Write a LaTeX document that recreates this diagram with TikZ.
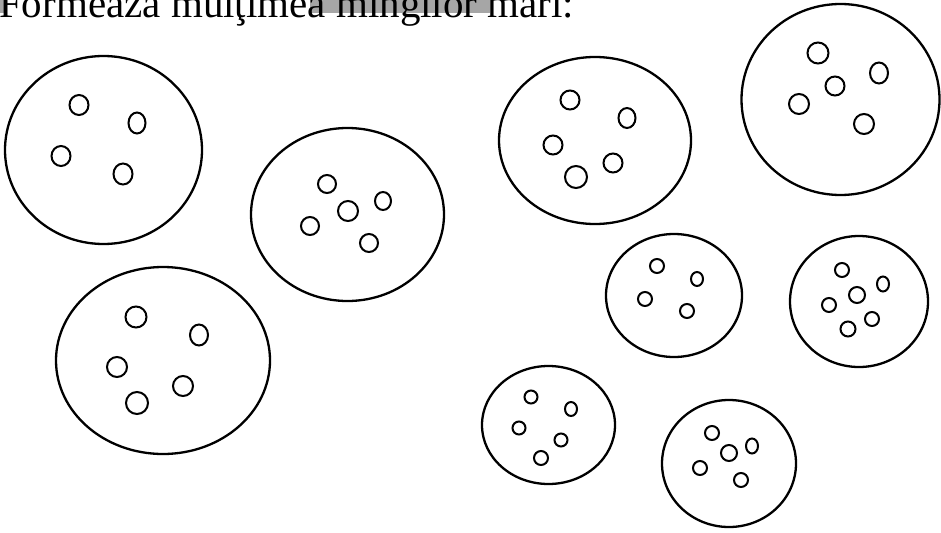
\documentclass[tikz,border=0pt]{standalone}
\usepackage{fontspec}
\setmainfont{Liberation Serif}
\begin{document}
\begin{tikzpicture}[x=1pt,y=-1pt,
  bigset/.style={line width=2.3pt},
  ball/.style={line width=2pt}]
\useasboundingbox (0,0) rectangle (941,532);
\clip (0,0) rectangle (941,532);
\fill[white] (0,0) rectangle (941,532);
\fill[gray!70] (310,0) rectangle (490,13);
\fill[gray!70] (0,0) rectangle (5,13);
\node[anchor=base west,inner sep=0pt,font=\fontsize{41}{45}\selectfont] (title) at (-1,18) {Formează mulţimea mingilor mari:};
% big sets
\draw[bigset] (103.5,150) ellipse [x radius=98.5, y radius=94];
\foreach \x/\y/\a/\b in {79/105/9.5/10, 137/123/8.5/10.5, 61/156/9.5/10, 123/174/9.5/10.5}
  \draw[ball] (\x,\y) ellipse [x radius=\a, y radius=\b];
\draw[bigset] (347.5,214.5) ellipse [x radius=96.5, y radius=86.5];
\foreach \x/\y/\a/\b in {327/184/9/9, 348/211/10/10, 383/201/8/9, 310/226/9/9, 369/243/9/9}
  \draw[ball] (\x,\y) ellipse [x radius=\a, y radius=\b];
\draw[bigset] (163,360.5) ellipse [x radius=107, y radius=93.5];
\foreach \x/\y/\a/\b in {136/317/10.5/10.5, 199/335/9/10.5, 117/367/10/10, 183/386/10/10, 137/403/11/11}
  \draw[ball] (\x,\y) ellipse [x radius=\a, y radius=\b];
\draw[bigset] (595,140.5) ellipse [x radius=96, y radius=83.5];
\foreach \x/\y/\a/\b in {570/100/9.5/9.5, 627/118/8.5/10, 553/145/9.5/9.5, 613/163/9.5/9.5, 576/177/11/11}
  \draw[ball] (\x,\y) ellipse [x radius=\a, y radius=\b];
\draw[bigset] (840.5,99.5) ellipse [x radius=99, y radius=95.5];
\foreach \x/\y/\a/\b in {818/53/10.5/10.5, 835/86/9.5/9.5, 879/73/9/10.5, 799/104/10/10, 864/124/10/10}
  \draw[ball] (\x,\y) ellipse [x radius=\a, y radius=\b];
% small sets
\draw[bigset] (674,295.5) ellipse [x radius=68, y radius=61.5];
\foreach \x/\y/\a/\b in {657/266/7/7, 697/279/6/7, 645/299/7/7, 687/311/7/7}
  \draw[ball] (\x,\y) ellipse [x radius=\a, y radius=\b];
\draw[bigset] (859,301.5) ellipse [x radius=69, y radius=65.5];
\foreach \x/\y/\a/\b in {842/270/7/7, 883/284/6/7.5, 857/295/8/8, 829/305/7/7, 872/319/7/7, 848/329/7.5/7.5}
  \draw[ball] (\x,\y) ellipse [x radius=\a, y radius=\b];
\draw[bigset] (548.5,425) ellipse [x radius=66.5, y radius=59];
\foreach \x/\y/\a/\b in {531/397/6.5/6.5, 571/409/6/7, 519/428/6.5/6.5, 561/440/6.5/6.5, 541/458/7/7}
  \draw[ball] (\x,\y) ellipse [x radius=\a, y radius=\b];
\draw[bigset] (729,463.5) ellipse [x radius=67, y radius=63.5];
\foreach \x/\y/\a/\b in {712/433/7/7, 752/446/6/7.5, 729/453/8/8, 700/468/7/7, 741/480/7/7}
  \draw[ball] (\x,\y) ellipse [x radius=\a, y radius=\b];
\end{tikzpicture}
\end{document}
